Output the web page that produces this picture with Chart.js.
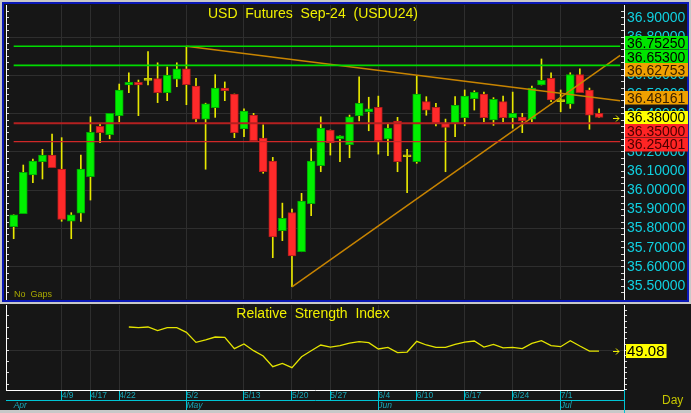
<!DOCTYPE html>
<html>
<head>
<meta charset="utf-8">
<script src="https://cdn.jsdelivr.net/npm/chart.js@4.4.1/dist/chart.umd.min.js"></script>
<style>
html, body { margin: 0; padding: 0; }
body { width: 691px; height: 413px; background: #c8c8c8; position: relative; overflow: hidden; }
#mainBox { position: absolute; left: 2px; top: 2px; width: 687px; height: 300px; box-sizing: border-box; border: 2px solid #0a18b8; background: #161616; }
#rsiBox { position: absolute; left: 0; top: 304px; width: 691px; height: 106px; background: #161616; }
#mainChart { position: absolute; left: 0; top: 0; }
#rsiChart { position: absolute; left: 0; top: 304px; }
</style>
</head>
<body>
<div id="mainBox"></div>
<div id="rsiBox"></div>
<canvas id="mainChart" width="691" height="302"></canvas>
<canvas id="rsiChart" width="691" height="109"></canvas>
<script>
// daily bars, Apr 1 .. Jul 5 (bar index = position on chart)
const opens = [35.810, 35.878, 36.080, 36.149, 36.184, 36.111, 35.839, 35.880, 36.071, 36.334,
    36.290, 36.390, 36.550, 36.564, 36.574, 36.583, 36.510, 36.580, 36.634, 36.545,
    36.371, 36.431, 36.534, 36.503, 36.320, 36.393, 36.273, 36.153, 35.789, 35.883,
    35.679, 35.930, 36.128, 36.315, 36.269, 36.238, 36.390, 36.410, 36.433, 36.268,
    36.362, 36.175, 36.149, 36.463, 36.433, 36.351, 36.350, 36.379, 36.478, 36.503,
    36.367, 36.463, 36.379, 36.383, 36.371, 36.550, 36.585, 36.463, 36.451, 36.604,
    36.524, 36.402];
const highs = [35.872, 36.132, 36.163, 36.214, 36.294, 36.275, 35.883, 36.184, 36.384, 36.350,
    36.402, 36.555, 36.614, 36.576, 36.724, 36.666, 36.644, 36.666, 36.7525, 36.585,
    36.455, 36.604, 36.566, 36.503, 36.425, 36.402, 36.342, 36.172, 35.933, 35.902,
    35.984, 36.216, 36.384, 36.315, 36.285, 36.393, 36.593, 36.486, 36.492, 36.350,
    36.381, 36.214, 36.597, 36.489, 36.454, 36.372, 36.489, 36.524, 36.520, 36.513,
    36.484, 36.492, 36.513, 36.402, 36.545, 36.686, 36.614, 36.524, 36.614, 36.634,
    36.534, 36.425];
const lows = [35.747, 35.878, 36.040, 36.059, 36.118, 35.838, 35.747, 35.838, 35.949, 36.249,
    36.269, 36.358, 36.510, 36.390, 36.550, 36.458, 36.468, 36.541, 36.447, 36.358,
    36.110, 36.381, 36.468, 36.275, 36.280, 36.255, 36.089, 35.648, 35.737, 35.496,
    35.679, 35.867, 36.097, 36.184, 36.149, 36.170, 36.362, 36.311, 36.189, 36.181,
    36.097, 35.987, 36.141, 36.392, 36.336, 36.097, 36.280, 36.337, 36.419, 36.358,
    36.339, 36.358, 36.324, 36.301, 36.358, 36.550, 36.463, 36.410, 36.428, 36.510,
    36.319, 36.380];
const closes = [35.872, 36.094, 36.153, 36.184, 36.118, 35.848, 35.872, 36.111, 36.303, 36.301,
    36.402, 36.524, 36.564, 36.550, 36.574, 36.510, 36.602, 36.634, 36.552, 36.371,
    36.452, 36.534, 36.520, 36.301, 36.414, 36.259, 36.097, 35.757, 35.853, 35.657,
    35.944, 36.153, 36.325, 36.248, 36.285, 36.384, 36.454, 36.425, 36.259, 36.325,
    36.149, 36.175, 36.503, 36.419, 36.350, 36.329, 36.444, 36.492, 36.512, 36.379,
    36.475, 36.379, 36.402, 36.363, 36.534, 36.574, 36.472, 36.463, 36.604, 36.510,
    36.392, 36.380];
const rsiValues = [null, null, null, null, null, null, null, null, null, null, null, null,
    70.2, 69.6, 70.2, 67.0, 69.6, 69.6, 65.5, 56.7, 58.8, 61.4,
    61.1, 51.2, 55.3, 49.4, 44.7, 35.4, 38.3, 34.5, 44.1, 49.4,
    54.4, 52.6, 53.8, 56.0, 57.3, 56.4, 50.9, 52.3, 47.7, 48.2,
    57.6, 54.4, 52.3, 52.3, 55.0, 57.0, 57.9, 52.6, 55.0, 51.8,
    52.3, 51.2, 55.8, 58.2, 53.8, 52.9, 58.2, 53.5, 49.1, 49.08];

const dateTickBars = [5, 8, 11, 18, 24, 29, 33, 38, 42, 47, 52, 57];
const dateTickLabels = ['4/9', '4/17', '4/22', '5/2', '5/13', '5/20', '5/27', '6/4', '6/10', '6/17', '6/24', '7/1'];
const monthTickBars = [0, 18, 38, 57];
const monthTickLabels = ['Apr', 'May', 'Jun', 'Jul'];
const priceTicks = [35.5, 35.6, 35.7, 35.8, 35.9, 36.0, 36.1, 36.2, 36.3, 36.4, 36.5, 36.6, 36.7, 36.8, 36.9];
const resistanceLevels = [36.7525, 36.653];
const supportLevels = [36.35, 36.25401];
const downTrend = [[18, 36.7525], [61, 36.48161]];
const upTrend = [[29, 35.496], [61, 36.62753]];

const FONT = "'Liberation Sans', Arial, sans-serif";
const GRID = '#2e2e2e';
const CYAN = '#00c4d4';
const xMin = -0.8, xMax = 63.6, lineStart = 0, lineEnd = 63.2;
const priceMin = 35.4321, priceMax = 36.9679;
const rsiMin = 14.9, rsiMax = 89.5;
const lastBar = closes.length - 1;
const barIdx = closes.map((c, i) => i);

Chart.defaults.font.family = FONT;

const minorPrices = [];
for (let n = -1; n <= 43; n++) minorPrices.push(35.5 + n / 30);

function isMajor(v) {
    return priceTicks.some(p => Math.abs(p - v) < 1e-6);
}

function isGridPrice(v) {
    return isMajor(v) && Math.round(v * 10) % 2 === 0;
}

// force an axis box size and drop the label overhang padding
function fixSize(w, h) {
    return s => {
        if (w !== null) s.width = w;
        if (h !== null) s.height = h;
        s.paddingTop = 0;
        s.paddingBottom = 0;
        s.paddingLeft = 0;
        s.paddingRight = 0;
    };
}

function levelLine(value) {
    return [{x: lineStart, y: value}, {x: lineEnd, y: value}];
}

function trendPoints(tr) {
    const [[x1, y1], [x2, y2]] = tr;
    const slope = (y2 - y1) / (x2 - x1);
    return [{x: x1, y: y1}, {x: lineEnd, y: y2 + slope * (lineEnd - x2)}];
}

function bodyFill(i) {
    if (closes[i] > opens[i]) return '#00f000';
    if (closes[i] < opens[i]) return '#ff2a2a';
    return '#c8c800';
}

function bodyBorder(i) {
    if (closes[i] > opens[i]) return '#00a800';
    if (closes[i] < opens[i]) return '#b01c1c';
    return '#c8c800';
}

function drawArrow(ctx, x, y) {
    ctx.strokeStyle = '#f0f000';
    ctx.lineWidth = 1;
    ctx.beginPath();
    ctx.moveTo(x, y + 0.5);
    ctx.lineTo(x + 6, y + 0.5);
    ctx.moveTo(x + 3, y - 2.5);
    ctx.lineTo(x + 6, y + 0.5);
    ctx.lineTo(x + 3, y + 3.5);
    ctx.stroke();
}

const mainDecor = {
    id: 'mainDecor',
    afterDraw(chart) {
        const {ctx, chartArea} = chart;
        const y = chart.scales.y;
        ctx.save();
        ctx.font = '14px ' + FONT;
        ctx.textAlign = 'center';
        ctx.textBaseline = 'middle';
        ctx.fillStyle = '#f0f000';
        ctx.fillText('USD  Futures  Sep-24  (USDU24)', 313, 14);

        ctx.font = '9px ' + FONT;
        ctx.textAlign = 'left';
        ctx.fillStyle = '#a8a800';
        ctx.fillText('No  Gaps', 14, 295);

        drawArrow(ctx, 613, Math.round(y.getPixelForValue(closes[lastBar])));

        const tags = [
            {value: resistanceLevels[0], bg: '#00e400', fg: '#000000'},
            {value: resistanceLevels[1], bg: '#00e400', fg: '#000000'},
            {value: upTrend[1][1], bg: '#f0a000', fg: '#3a2200'},
            {value: downTrend[1][1], bg: '#f0a000', fg: '#3a2200'},
            {value: closes[lastBar], bg: '#ffff00', fg: '#000000', anchor: true},
            {value: supportLevels[0], bg: '#ff2424', fg: '#4a0000'},
            {value: supportLevels[1], bg: '#ff2424', fg: '#4a0000'}
        ];
        tags.forEach(t => t.py = y.getPixelForValue(t.value));
        tags.sort((a, b) => a.py - b.py);
        const h = 13.5;
        const k = tags.findIndex(t => t.anchor);
        for (let i = k - 1; i >= 0; i--) tags[i].py = Math.min(tags[i].py, tags[i + 1].py - h);
        for (let i = k + 1; i < tags.length; i++) tags[i].py = Math.max(tags[i].py, tags[i - 1].py + h);
        ctx.font = '14px ' + FONT;
        tags.forEach(t => {
            ctx.fillStyle = t.bg;
            ctx.fillRect(chartArea.right + 1, Math.round(t.py - h / 2), 63, h);
            ctx.fillStyle = t.fg;
            ctx.fillText(t.value.toFixed(5), chartArea.right + 3, t.py + 1);
        });
        ctx.restore();
    }
};

const rsiDecor = {
    id: 'rsiDecor',
    afterDraw(chart) {
        const {ctx, chartArea} = chart;
        const y = chart.scales.y;
        const last = rsiValues[lastBar];
        const py = Math.round(y.getPixelForValue(last));
        ctx.save();
        ctx.font = '14px ' + FONT;
        ctx.textAlign = 'center';
        ctx.textBaseline = 'middle';
        ctx.fillStyle = '#f0f000';
        ctx.fillText('Relative  Strength  Index', 313, 10);

        drawArrow(ctx, 613, py);

        ctx.font = '15px ' + FONT;
        ctx.textAlign = 'left';
        const txt = last.toFixed(2);
        const w = ctx.measureText(txt).width;
        ctx.fillStyle = '#ffff00';
        ctx.fillRect(chartArea.right + 2, py - 7, w + 3, 14);
        ctx.fillStyle = '#000000';
        ctx.fillText(txt, chartArea.right + 3, py + 1);

        ctx.font = '12px ' + FONT;
        ctx.fillStyle = '#c4c400';
        ctx.fillText('Day', 662, 97);

        ctx.strokeStyle = CYAN;
        ctx.lineWidth = 1;
        ctx.beginPath();
        ctx.moveTo(chartArea.right + 0.5, chartArea.bottom);
        ctx.lineTo(chartArea.right + 0.5, 109);
        ctx.stroke();
        ctx.restore();
    }
};

new Chart(document.getElementById('mainChart'), {
    type: 'bar',
    data: {
        datasets: [
            {type: 'line', data: levelLine(resistanceLevels[0]), borderColor: '#00dc00', borderWidth: 1.5, pointRadius: 0, order: 0},
            {type: 'line', data: levelLine(resistanceLevels[1]), borderColor: '#00dc00', borderWidth: 1.8, pointRadius: 0, order: 0},
            {type: 'line', data: levelLine(supportLevels[0]), borderColor: '#b42020', borderWidth: 2, pointRadius: 0, order: 0},
            {type: 'line', data: levelLine(supportLevels[1]), borderColor: '#d02828', borderWidth: 1.3, pointRadius: 0, order: 0},
            {type: 'line', data: trendPoints(downTrend), borderColor: '#c88400', borderWidth: 1.5, pointRadius: 0, order: 0},
            {type: 'line', data: trendPoints(upTrend), borderColor: '#c88400', borderWidth: 1.5, pointRadius: 0, order: 0},
            {
                data: barIdx.map(i => ({x: i, y: [lows[i], highs[i]]})),
                backgroundColor: '#e8e800',
                borderWidth: 0,
                barThickness: 1,
                grouped: false,
                order: 3
            },
            {
                data: barIdx.map(i => ({x: i, y: [opens[i], closes[i]]})),
                backgroundColor: ctx => bodyFill(ctx.dataIndex),
                borderColor: ctx => bodyBorder(ctx.dataIndex),
                borderWidth: 1,
                borderSkipped: false,
                barThickness: 8,
                minBarLength: 2,
                grouped: false,
                order: 2
            }
        ]
    },
    options: {
        responsive: false,
        animation: false,
        layout: {padding: {left: 6, top: 5, right: 0, bottom: 3}},
        plugins: {legend: {display: false}, tooltip: {enabled: false}},
        scales: {
            x: {
                type: 'linear', min: xMin, max: xMax, offset: false,
                afterBuildTicks: s => { s.ticks = dateTickBars.map(v => ({value: v})); },
                afterFit: fixSize(null, 0),
                ticks: {display: false},
                grid: {color: GRID, drawTicks: false, offset: false},
                border: {display: false}
            },
            y: {
                position: 'right', min: priceMin, max: priceMax,
                afterBuildTicks: s => { s.ticks = minorPrices.map(v => ({value: v})); },
                afterFit: fixSize(67, null),
                ticks: {
                    autoSkip: false, color: '#10d0e0', font: {size: 14}, padding: 6,
                    callback: v => isMajor(v) ? v.toFixed(5) : ''
                },
                grid: {color: ctx => isGridPrice(ctx.tick.value) ? GRID : 'rgba(0,0,0,0)', tickLength: -3, tickColor: '#d8d8d8'},
                border: {color: '#ffffff'}
            },
            yl: {
                position: 'left', min: priceMin, max: priceMax,
                afterBuildTicks: s => { s.ticks = minorPrices.map(v => ({value: v})); },
                afterFit: fixSize(0, null),
                ticks: {display: false},
                grid: {drawOnChartArea: false, tickLength: -3, tickColor: '#d8d8d8'},
                border: {color: '#ffffff'}
            }
        }
    },
    plugins: [mainDecor]
});

new Chart(document.getElementById('rsiChart'), {
    type: 'line',
    data: {
        datasets: [{
            data: barIdx.map(i => ({x: i, y: rsiValues[i]})),
            borderColor: '#e4e400',
            borderWidth: 1.3,
            pointRadius: 0,
            spanGaps: false
        }]
    },
    options: {
        responsive: false,
        animation: false,
        layout: {padding: {left: 6, top: 1, right: 0, bottom: 3}},
        plugins: {legend: {display: false}, tooltip: {enabled: false}},
        scales: {
            x: {
                type: 'linear', min: xMin, max: xMax, offset: false, weight: 0,
                afterBuildTicks: s => { s.ticks = dateTickBars.map(v => ({value: v})); },
                afterFit: fixSize(null, 10),
                ticks: {
                    autoSkip: false, maxRotation: 0, align: 'start', padding: -9,
                    color: '#18a8b8', font: {size: 8.5},
                    callback: v => dateTickLabels[dateTickBars.indexOf(v)]
                },
                grid: {color: GRID, tickColor: CYAN, tickLength: 10},
                border: {color: '#ffffff'}
            },
            x2: {
                type: 'linear', position: 'bottom', min: xMin, max: xMax, offset: false, weight: 1,
                afterBuildTicks: s => { s.ticks = monthTickBars.map(v => ({value: v})); },
                afterFit: fixSize(null, 10),
                ticks: {
                    autoSkip: false, maxRotation: 0, align: 'start', padding: -9,
                    color: '#18a8b8', font: {size: 8.5, style: 'italic'},
                    callback: v => monthTickLabels[monthTickBars.indexOf(v)]
                },
                grid: {drawOnChartArea: false, tickColor: ctx => ctx.index === 0 ? 'rgba(0,0,0,0)' : CYAN, tickLength: 10},
                border: {color: CYAN}
            },
            y: {
                position: 'right', min: rsiMin, max: rsiMax,
                afterBuildTicks: s => { s.ticks = [15, 20, 25, 30, 35, 40, 45, 50, 55, 60, 65, 70, 75, 80, 85].map(v => ({value: v})); },
                afterFit: fixSize(67, null),
                ticks: {display: false},
                grid: {drawOnChartArea: false, tickLength: 3, tickColor: '#d8d8d8'},
                border: {color: '#ffffff'}
            },
            yl: {
                position: 'left', min: rsiMin, max: rsiMax,
                afterBuildTicks: s => { s.ticks = [20, 30, 40, 50, 60, 70, 80].map(v => ({value: v})); },
                afterFit: fixSize(0, null),
                ticks: {display: false},
                grid: {color: ctx => ctx.tick.value === 50 ? GRID : 'rgba(0,0,0,0)', tickLength: -3, tickColor: '#d8d8d8'},
                border: {color: '#ffffff'}
            }
        }
    },
    plugins: [rsiDecor]
});
</script>
</body>
</html>
